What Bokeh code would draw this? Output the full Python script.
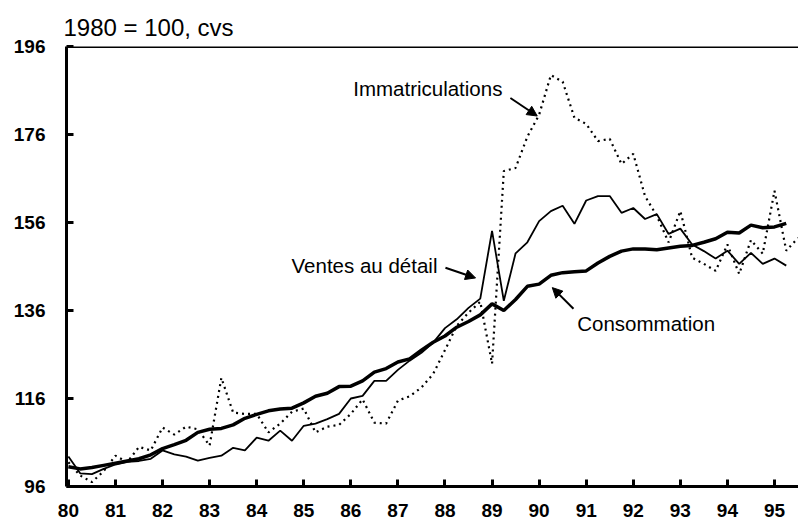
from bokeh.plotting import figure
from bokeh.models import Range1d, FixedTicker, Span, Arrow, NormalHead, Label
from bokeh.embed import file_html
from bokeh.resources import INLINE

# quarterly periods (year, 80 = 1980)
periods = [80.0, 80.25, 80.5, 80.75, 81.0, 81.25, 81.5, 81.75, 82.0, 82.25, 82.5, 82.75,
           83.0, 83.25, 83.5, 83.75, 84.0, 84.25, 84.5, 84.75, 85.0, 85.25, 85.5, 85.75,
           86.0, 86.25, 86.5, 86.75, 87.0, 87.25, 87.5, 87.75, 88.0, 88.25, 88.5, 88.75,
           89.0, 89.25, 89.5, 89.75, 90.0, 90.25, 90.5, 90.75, 91.0, 91.25, 91.5, 91.75,
           92.0, 92.25, 92.5, 92.75, 93.0, 93.25, 93.5, 93.75, 94.0, 94.25, 94.5, 94.75,
           95.0, 95.25, 95.5]

consommation = [100.5, 100.0, 100.3, 100.8, 101.3, 101.8, 102.3, 103.2, 104.6, 105.5, 106.5, 108.3,
                109.0, 109.2, 110.0, 111.5, 112.4, 113.2, 113.6, 113.8, 115.0, 116.5, 117.2, 118.7,
                118.8, 120.0, 122.0, 122.8, 124.3, 125.0, 127.0, 128.8, 130.2, 132.2, 133.5, 135.0,
                137.5, 136.0, 138.5, 141.5, 142.0, 144.0, 144.6, 144.8, 145.0, 146.8, 148.3, 149.5,
                150.0, 150.0, 149.8, 150.2, 150.6, 150.8, 151.5, 152.3, 153.8, 153.6, 155.4, 154.8,
                155.0, 155.8]

ventes = [102.8, 99.0, 98.8, 100.0, 101.0, 101.6, 101.8, 102.3, 104.2, 103.3, 102.8, 101.9,
          102.5, 103.0, 104.8, 104.2, 107.1, 106.4, 108.7, 106.4, 109.8, 110.3, 111.3, 112.5,
          116.0, 116.6, 120.0, 120.0, 122.5, 124.6, 126.4, 128.7, 132.0, 134.0, 136.6, 138.7,
          154.1, 138.2, 149.0, 151.5, 156.3, 158.6, 159.8, 155.7, 161.0, 162.0, 162.0, 158.2,
          159.3, 156.8, 157.9, 153.4, 154.6, 151.0, 149.5, 147.8, 149.6, 146.6, 149.1, 146.6,
          147.8, 146.2]

immatriculations = [101.5, 98.5, 97.0, 99.5, 103.0, 101.5, 105.0, 104.2, 109.4, 107.8, 109.6, 109.0,
                    105.3, 120.7, 112.8, 112.5, 112.5, 108.3, 110.3, 113.0, 113.7, 108.3, 109.6, 110.0,
                    112.5, 115.8, 110.5, 110.3, 115.5, 116.5, 118.5, 121.6, 127.0, 132.5, 135.5, 138.0,
                    123.9, 167.7, 168.4, 175.5, 180.5, 189.5, 188.0, 179.8, 178.4, 174.5, 175.0, 169.3,
                    171.6, 162.0, 157.5, 151.5, 158.6, 148.0, 146.6, 145.0, 151.0, 144.3, 152.0, 148.9,
                    163.2, 149.6, 152.5]

x_ticks = list(range(80, 96))
y_ticks = [96, 116, 136, 156, 176, 196]

FONT = "Liberation Sans"

p = figure(width=798, height=524, output_backend="svg", toolbar_location=None,
           x_range=Range1d(79.96, 95.51), y_range=Range1d(96, 196),
           min_border_left=66, min_border_right=0, min_border_top=46, min_border_bottom=38)

p.title.text = "1980 = 100, cvs"
p.title.text_font = FONT
p.title.text_font_size = "24px"
p.title.text_font_style = "normal"
p.title.text_color = "black"
p.title.align = "left"
p.title.offset = -3
p.title.standoff = 11

p.xgrid.visible = False
p.ygrid.visible = False
p.outline_line_color = None
p.background_fill_color = "white"
p.border_fill_color = "white"

for ax in (p.xaxis[0], p.yaxis[0]):
    ax.axis_line_width = 3
    ax.axis_line_color = "black"
    ax.major_tick_line_width = 3
    ax.major_tick_line_color = "black"
    ax.major_tick_in = 7
    ax.major_tick_out = 0
    ax.minor_tick_line_color = None
    ax.major_label_text_font = FONT
    ax.major_label_text_font_style = "bold"
    ax.major_label_text_font_size = "19px"
    ax.major_label_text_color = "black"

p.xaxis.ticker = FixedTicker(ticks=x_ticks)
p.yaxis.ticker = FixedTicker(ticks=y_ticks)
p.xaxis.major_label_standoff = 17
p.yaxis.major_label_standoff = 21

p.add_layout(Span(location=196, dimension="width", line_color="black", line_width=3))

p.line(periods[:len(immatriculations)], immatriculations, line_color="black", line_width=2.2,
       line_dash="2 4")
p.line(periods[:len(ventes)], ventes, line_color="black", line_width=1.8)
p.line(periods[:len(consommation)], consommation, line_color="black", line_width=3.5)

# annotations
lab_kw = dict(text_font=FONT, text_font_size="20.5px", text_color="black", text_baseline="middle")
p.add_layout(Label(x=86.05, y=186.4, text="Immatriculations", **lab_kw))
p.add_layout(Label(x=87.84, y=146.2, text="Ventes au détail", text_align="right", **lab_kw))
p.add_layout(Label(x=90.81, y=133.0, text="Consommation", **lab_kw))

def arrow(x0, y0, x1, y1):
    p.add_layout(Arrow(end=NormalHead(size=10, fill_color="black", line_color="black"),
                       x_start=x0, y_start=y0, x_end=x1, y_end=y1,
                       line_width=2, line_color="black"))

arrow(89.39, 184.3, 89.96, 180.2)
arrow(88.01, 145.7, 88.65, 143.4)
arrow(90.73, 136.4, 90.28, 141.2)

open("out.html", "w").write(file_html(p, INLINE))
